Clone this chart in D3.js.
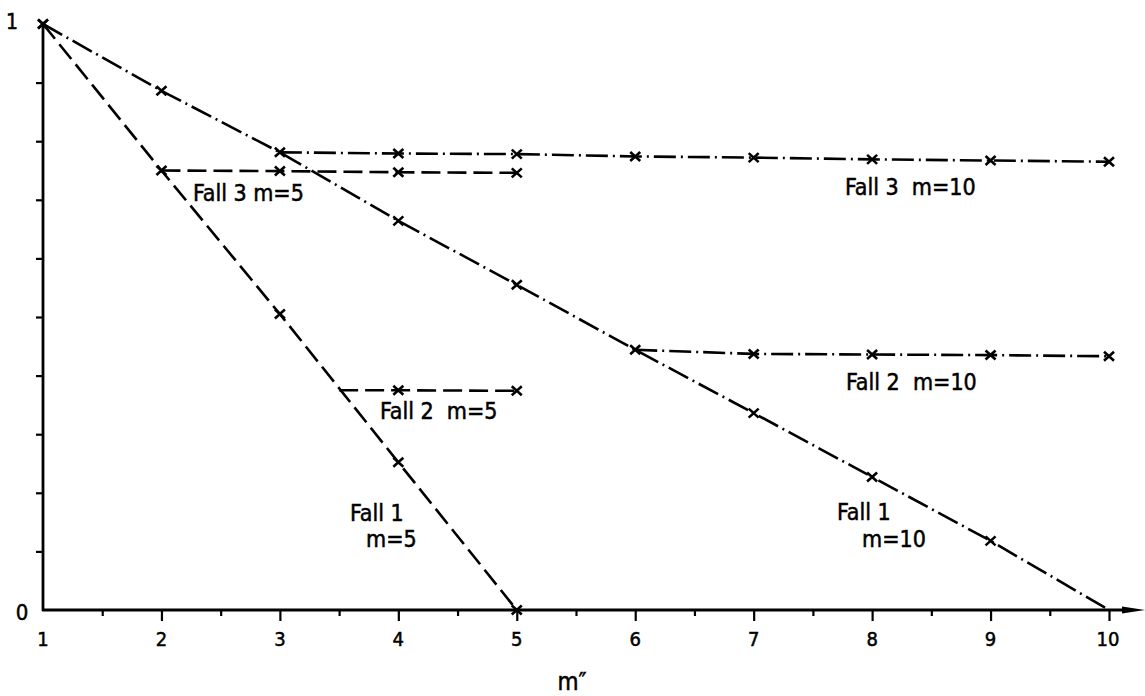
<!DOCTYPE html>
<html>
<head>
<meta charset="utf-8">
<script src="https://cdn.jsdelivr.net/npm/d3@7"></script>
<style>
html,body{margin:0;padding:0;background:#fff;}
svg{display:block;}
text{font-family:"DejaVu Sans Condensed","DejaVu Sans",sans-serif;fill:#000;stroke:#000;stroke-width:0.5px;white-space:pre;}
</style>
</head>
<body>
<svg id="chart" width="1145" height="696"></svg>
<script>
// ---- data ----
const xMajorTicks = [1,2,3,4,5,6,7,8,9,10];
const xMinorTicks = [1.5,2.5,3.5,4.5,5.5,6.5,7.5,8.5,9.5];
const yTicks = [0.1,0.2,0.3,0.4,0.5,0.6,0.7,0.8,0.9];
const yTickLabels = ["0","1"];

// Fall 1, m=5 (dashed)
const fall1m5X = [1,2,3,4,5];
const fall1m5Y = [1,0.75,0.505,0.252,0];
// Fall 3, m=5 (dashed)
const fall3m5X = [2,3,4,5];
const fall3m5Y = [0.75,0.749,0.747,0.746];
// Fall 2, m=5 (dashed)
const fall2m5X = [3.5,4,5];
const fall2m5Y = [0.375,0.375,0.374];
// Fall 1, m=10 (dash-dot)
const fall1m10X = [1,2,3,4,5,6,7,8,9,10];
const fall1m10Y = [1,0.886,0.781,0.664,0.555,0.444,0.336,0.227,0.118,0];
// Fall 3, m=10 (dash-dot)
const fall3m10X = [3,4,5,6,7,8,9,10];
const fall3m10Y = [0.781,0.779,0.778,0.774,0.772,0.769,0.767,0.765];
// Fall 2, m=10 (dash-dot)
const fall2m10X = [6,7,8,9,10];
const fall2m10Y = [0.444,0.437,0.436,0.435,0.433];

// points carrying a cross marker (x values)
const fall1m5Marks = [1,2,3,4,5];
const fall3m5Marks = [3,4,5];
const fall2m5Marks = [4,5];
const fall1m10Marks = [1,2,3,4,5,6,7,8,9];
const fall3m10Marks = [4,5,6,7,8,9,10];
const fall2m10Marks = [7,8,9,10];

// annotations (text, anchor in data units)
const labelTexts = ["Fall 3 m=5","Fall 2  m=5","Fall 1","m=5","Fall 3  m=10","Fall 2  m=10","Fall 1","m=10"];
const labelX = [2.266,3.845,3.592,3.727,7.771,7.780,7.704,7.915];
const labelY = [0.698,0.326,0.152,0.1075,0.708,0.376,0.1536,0.1075];
const xAxisTitle = "m\u2033";

// ---- drawing ----
const svg = d3.select("#chart");
const x = d3.scaleLinear().domain([1,10]).range([43,1109]);
const y = d3.scaleLinear().domain([0,1]).range([610,24]);

const series = [
  {xs:fall1m5X, ys:fall1m5Y, marks:fall1m5Marks, dash:"19,7"},
  {xs:fall3m5X, ys:fall3m5Y, marks:fall3m5Marks, dash:"19,7"},
  {xs:fall2m5X, ys:fall2m5Y, marks:fall2m5Marks, dash:"19,7"},
  {xs:fall1m10X, ys:fall1m10Y, marks:fall1m10Marks, dash:"22,5,2,5"},
  {xs:fall3m10X, ys:fall3m10Y, marks:fall3m10Marks, dash:"22,5,2,5"},
  {xs:fall2m10X, ys:fall2m10Y, marks:fall2m10Marks, dash:"22,5,2,5"}
];

// axes
const gx = svg.append("g").attr("transform",`translate(0,${y(0)})`);
gx.call(d3.axisBottom(x).tickValues(xMajorTicks.slice(1)).tickSize(11).tickFormat(""));
gx.select(".domain").remove();
gx.selectAll(".tick line").attr("stroke","#000").attr("stroke-width",2.2);
const gxm = svg.append("g").attr("transform",`translate(0,${y(0)})`);
gxm.call(d3.axisBottom(x).tickValues(xMinorTicks).tickSize(6).tickFormat(""));
gxm.select(".domain").remove();
gxm.selectAll(".tick line").attr("stroke","#000").attr("stroke-width",2.2);

svg.append("g").selectAll("text").data(xMajorTicks).join("text")
  .attr("x",d=>x(d)+(d===10?-1:0)).attr("y",646)
  .attr("text-anchor","middle").style("font-size","20px")
  .text(d=>String(d));

const gy = svg.append("g").attr("transform",`translate(${x(1)},0)`);
gy.call(d3.axisLeft(y).tickValues(yTicks).tickSize(7).tickFormat(""));
gy.select(".domain").remove();
gy.selectAll(".tick line").attr("stroke","#000").attr("stroke-width",2.2);

svg.append("text").attr("x",x(1)-31).attr("y",y(1)+5).attr("text-anchor","middle")
  .style("font-size","21px").text(yTickLabels[1]);
svg.append("text").attr("x",x(1)-21).attr("y",y(0)+10).attr("text-anchor","middle")
  .style("font-size","22px").text(yTickLabels[0]);

// axis lines
svg.append("line").attr("x1",x(1)).attr("x2",x(1)).attr("y1",y(0)+1).attr("y2",y(1)-2)
  .attr("stroke","#000").attr("stroke-width",2.8);
svg.append("line").attr("x1",x(1)-1).attr("x2",1130).attr("y1",y(0)).attr("y2",y(0))
  .attr("stroke","#000").attr("stroke-width",2.8);
svg.append("path").attr("d",`M1122,${y(0)-3.5} L1145,${y(0)} L1122,${y(0)+3.5} Z`).attr("fill","#000");

svg.append("text").attr("x",572).attr("y",690).attr("text-anchor","middle")
  .style("font-size","24px").text(xAxisTitle);

// lines
const line = d3.line().x(d=>x(d[0])).y(d=>y(d[1]));
series.forEach(s=>{
  const pts = s.xs.map((v,i)=>[v,s.ys[i]]);
  svg.append("path").attr("d",line(pts)).attr("fill","none")
    .attr("stroke","#000").attr("stroke-width",2.6)
    .attr("stroke-dasharray",s.dash);
});

// markers
series.forEach(s=>{
  const pts = s.xs.map((v,i)=>[v,s.ys[i]]).filter(p=>s.marks.includes(p[0]));
  svg.append("g").selectAll("path").data(pts).join("path")
    .attr("d",p=>{const cx=x(p[0]), cy=y(p[1]), w=5, h=4.5;
      return `M${cx-w},${cy-h}L${cx+w},${cy+h}M${cx-w},${cy+h}L${cx+w},${cy-h}`;})
    .attr("stroke","#000").attr("stroke-width",2.6).attr("fill","none");
});

// annotations
svg.append("g").selectAll("text").data(labelTexts).join("text")
  .attr("x",(d,i)=>x(labelX[i])).attr("y",(d,i)=>y(labelY[i]))
  .style("font-size","23px").text(d=>d);
</script>
</body>
</html>
